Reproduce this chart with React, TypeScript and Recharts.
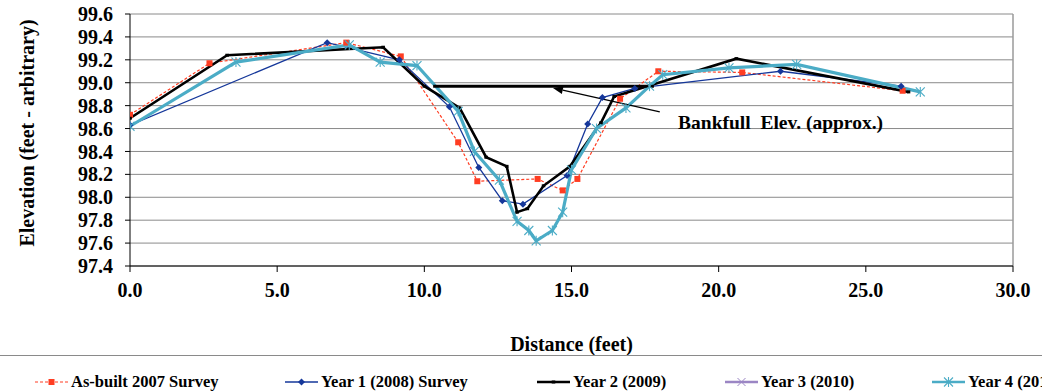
import React from 'react';
import {
  LineChart,
  Line,
  XAxis,
  YAxis,
  CartesianGrid,
  ReferenceLine,
  ReferenceDot,
  Legend,
} from 'recharts';

// ---------- data ----------
const xTicks = [0, 5, 10, 15, 20, 25, 30];
const yTicks = [97.4, 97.6, 97.8, 98.0, 98.2, 98.4, 98.6, 98.8, 99.0, 99.2, 99.4, 99.6];

const seriesNames = [
  'As-built 2007 Survey',
  'Year 1 (2008) Survey',
  'Year 2 (2009)',
  'Year 3 (2010)',
  'Year 4 (2011)',
];

const asBuiltDist = [0, 2.7, 7.35, 9.2, 11.15, 11.8, 13.85, 14.7, 15.2, 16.65, 17.95, 20.8, 26.25];
const asBuiltElev = [98.72, 99.17, 99.35, 99.23, 98.48, 98.14, 98.16, 98.06, 98.16, 98.86, 99.1, 99.09, 98.93];

const year1Dist = [0, 6.7, 9.15, 10.85, 11.85, 12.65, 13.35, 14.85, 15.55, 16.05, 17.15, 22.1, 26.2];
const year1Elev = [98.63, 99.35, 99.2, 98.79, 98.26, 97.97, 97.94, 98.19, 98.64, 98.87, 98.95, 99.1, 98.97];

const year2Dist = [0, 3.3, 8.6, 10.0, 11.2, 12.1, 12.8, 13.15, 13.5, 14.05, 14.95, 16.0, 16.45, 20.6, 26.45];
const year2Elev = [98.69, 99.24, 99.31, 98.97, 98.78, 98.35, 98.27, 97.87, 97.9, 98.1, 98.27, 98.65, 98.88, 99.21, 98.92];

const year3Dist: number[] = [];
const year3Elev: number[] = [];

const year4Dist = [0, 3.6, 7.45, 8.5, 9.75, 11.15, 11.7, 12.55, 13.15, 13.55, 13.8, 14.35, 14.7, 15.0, 15.85, 16.85, 17.65, 18.1, 20.35, 22.65, 26.85];
const year4Elev = [98.62, 99.18, 99.33, 99.18, 99.15, 98.75, 98.4, 98.15, 97.79, 97.71, 97.62, 97.71, 97.87, 98.24, 98.6, 98.78, 98.97, 99.07, 99.13, 99.16, 98.92];

const bankfullElev = 98.97;
const bankfullFrom = 10.3;
const bankfullTo = 17.8;
const arrowTip = { x: 14.37, y: 98.955 };
const arrowTail = { x: 18.0, y: 98.745 };
const annotationText = 'Bankfull  Elev. (approx.)';
const annotationPos = { x: 18.62, y: 98.6 };

const xTitle = 'Distance (feet)';
const yTitle = 'Elevation (feet - arbitrary)';

// ---------- helpers ----------
const toPoints = (xs: number[], ys: number[]) => xs.map((x, i) => ({ x, y: ys[i] }));

const asBuilt = toPoints(asBuiltDist, asBuiltElev);
const year1 = toPoints(year1Dist, year1Elev);
const year2 = toPoints(year2Dist, year2Elev);
const year3 = toPoints(year3Dist, year3Elev);
const year4 = toPoints(year4Dist, year4Elev);

const FONT = '"Liberation Serif", "Times New Roman", serif';
const RED = '#FF3D22';
const NAVY = '#15379A';
const BLACK = '#000000';
const PURPLE = '#9B86C4';
const CYAN = '#4BACC6';

type MP = { cx: number; cy: number; color: string };

const SquareMark = ({ cx, cy, color }: MP) => (
  <rect x={cx - 3} y={cy - 3} width={6} height={6} fill={color} />
);
const DiamondMark = ({ cx, cy, color }: MP) => (
  <polygon points={`${cx},${cy - 3.5} ${cx + 3.5},${cy} ${cx},${cy + 3.5} ${cx - 3.5},${cy}`} fill={color} />
);
const SmallMark = ({ cx, cy, color }: MP) => (
  <rect x={cx - 1.8} y={cy - 1.5} width={3.6} height={3} fill={color} />
);
const XMark = ({ cx, cy, color }: MP) => (
  <g stroke={color} strokeWidth={1}>
    <line x1={cx - 4} y1={cy - 4} x2={cx + 4} y2={cy + 4} />
    <line x1={cx - 4} y1={cy + 4} x2={cx + 4} y2={cy - 4} />
  </g>
);
const StarMark = ({ cx, cy, color }: MP) => (
  <g stroke={color} strokeWidth={1.1}>
    <line x1={cx - 4.5} y1={cy - 4.5} x2={cx + 4.5} y2={cy + 4.5} />
    <line x1={cx - 4.5} y1={cy + 4.5} x2={cx + 4.5} y2={cy - 4.5} />
    <line x1={cx} y1={cy - 5} x2={cx} y2={cy + 5} />
  </g>
);

const makeDot = (Mark: (p: MP) => React.ReactElement, color: string) => (p: any) => {
  if (p.cx == null || p.cy == null) return <g key={p.index} />;
  return (
    <g key={`d-${p.index}`}>
      <Mark cx={p.cx} cy={p.cy} color={color} />
    </g>
  );
};

const legendItems = [
  { name: seriesNames[0], color: RED, width: 1, dash: '3 2', Mark: SquareMark, left: 35 },
  { name: seriesNames[1], color: NAVY, width: 1.5, dash: undefined, Mark: DiamondMark, left: 285 },
  { name: seriesNames[2], color: BLACK, width: 2.5, dash: undefined, Mark: SmallMark, left: 537 },
  { name: seriesNames[3], color: PURPLE, width: 2.5, dash: undefined, Mark: XMark, left: 725 },
  { name: seriesNames[4], color: CYAN, width: 2.5, dash: undefined, Mark: StarMark, left: 932 },
];

const LegendBox = () => (
  <div
    style={{
      position: 'relative',
      width: 1100,
      height: 37,
      borderTop: '1px solid #8a8a8a',
      fontFamily: FONT,
      fontWeight: 'bold',
      fontSize: 16.5,
      color: '#000',
    }}
  >
    {legendItems.map((it) => (
      <div
        key={it.name}
        style={{ position: 'absolute', left: it.left, top: 17, height: 18, display: 'flex', alignItems: 'center', whiteSpace: 'nowrap' }}
      >
        <svg width={33} height={12} style={{ display: 'block' }}>
          <line x1={0} y1={6} x2={33} y2={6} stroke={it.color} strokeWidth={it.width} strokeDasharray={it.dash} />
          <it.Mark cx={16.5} cy={6} color={it.color} />
        </svg>
        <span style={{ marginLeft: 3, lineHeight: '18px' }}>{it.name}</span>
      </div>
    ))}
  </div>
);

const ArrowShape = (props: any) => {
  const { x1, y1, x2, y2 } = props;
  if ([x1, y1, x2, y2].some((v) => v == null || Number.isNaN(v))) return <g />;
  // x1,y1 = tip ; x2,y2 = tail
  const ang = Math.atan2(y1 - y2, x1 - x2);
  const L = 10;
  const W = 4;
  const bx = x1 - L * Math.cos(ang);
  const by = y1 - L * Math.sin(ang);
  const px = -Math.sin(ang) * W;
  const py = Math.cos(ang) * W;
  return (
    <g>
      <line x1={bx} y1={by} x2={x2} y2={y2} stroke="#000" strokeWidth={1.3} />
      <polygon points={`${x1},${y1} ${bx + px},${by + py} ${bx - px},${by - py}`} fill="#000" />
    </g>
  );
};

const AnnotationShape = (props: any) => {
  const { cx, cy } = props;
  if (cx == null || cy == null) return <g />;
  return (
    <text x={cx} y={cy} fill="#000" fontFamily={FONT} fontWeight="bold" fontSize={19.5} textAnchor="start" style={{ whiteSpace: 'pre' }}>
      {annotationText}
    </text>
  );
};

export default function App() {
  const tickStyle = { fill: '#000', fontSize: 20, fontWeight: 'bold', fontFamily: FONT } as any;
  return (
    <div style={{ position: 'absolute', left: 0, top: 0, width: 1042, height: 392, overflow: 'hidden', background: '#fff' }}>
      <LineChart width={1042} height={392} margin={{ top: 14, right: 29, bottom: 4, left: 0 }}>
        <CartesianGrid horizontal vertical={false} stroke="#8a8a8a" strokeWidth={1} />
        <XAxis
          type="number"
          dataKey="x"
          domain={[0, 30]}
          ticks={xTicks}
          interval={0}
          allowDataOverflow
          tickFormatter={(v: number) => v.toFixed(1)}
          height={85}
          tickSize={6}
          tickMargin={11}
          stroke="#000"
          tick={tickStyle}
          label={{ value: xTitle, position: 'insideBottom', offset: 0, fill: '#000', fontSize: 20, fontWeight: 'bold', fontFamily: FONT }}
        />
        <YAxis
          type="number"
          dataKey="y"
          domain={[97.4, 99.6]}
          ticks={yTicks}
          interval={0}
          allowDataOverflow
          tickFormatter={(v: number) => v.toFixed(1)}
          width={130}
          tickSize={5}
          tickMargin={12}
          stroke="#000"
          tick={tickStyle}
          label={{ value: yTitle, angle: -90, position: 'center', dx: -38, dy: -7, fill: '#000', fontSize: 20, fontWeight: 'bold', fontFamily: FONT }}
        />
        <ReferenceLine x={30} stroke="#9a9a9a" strokeWidth={1.5} />
        <Line data={asBuilt} dataKey="y" name={seriesNames[0]} stroke={RED} strokeWidth={1.2} strokeDasharray="3 2" dot={makeDot(SquareMark, RED)} activeDot={false} isAnimationActive={false} />
        <Line data={year1} dataKey="y" name={seriesNames[1]} stroke={NAVY} strokeWidth={1.3} dot={makeDot(DiamondMark, NAVY)} activeDot={false} isAnimationActive={false} />
        <Line data={year2} dataKey="y" name={seriesNames[2]} stroke={BLACK} strokeWidth={2.6} dot={makeDot(SmallMark, BLACK)} activeDot={false} isAnimationActive={false} />
        <Line data={year3} dataKey="y" name={seriesNames[3]} stroke={PURPLE} strokeWidth={2.5} dot={makeDot(XMark, PURPLE)} activeDot={false} isAnimationActive={false} />
        <Line data={year4} dataKey="y" name={seriesNames[4]} stroke={CYAN} strokeWidth={3.2} dot={makeDot(StarMark, CYAN)} activeDot={false} isAnimationActive={false} />
        <ReferenceLine
          segment={[
            { x: bankfullFrom, y: bankfullElev },
            { x: bankfullTo, y: bankfullElev },
          ]}
          stroke="#000"
          strokeWidth={3}
        />
        <ReferenceLine
          segment={[arrowTip, arrowTail]}
          stroke="#000"
          shape={ArrowShape}
        />
        <ReferenceDot x={annotationPos.x} y={annotationPos.y} r={0} shape={AnnotationShape} />
        <Legend
          verticalAlign="bottom"
          layout="horizontal"
          wrapperStyle={{ left: 0, top: 355, width: 1042, height: 37 }}
          content={() => <LegendBox />}
        />
      </LineChart>
    </div>
  );
}
